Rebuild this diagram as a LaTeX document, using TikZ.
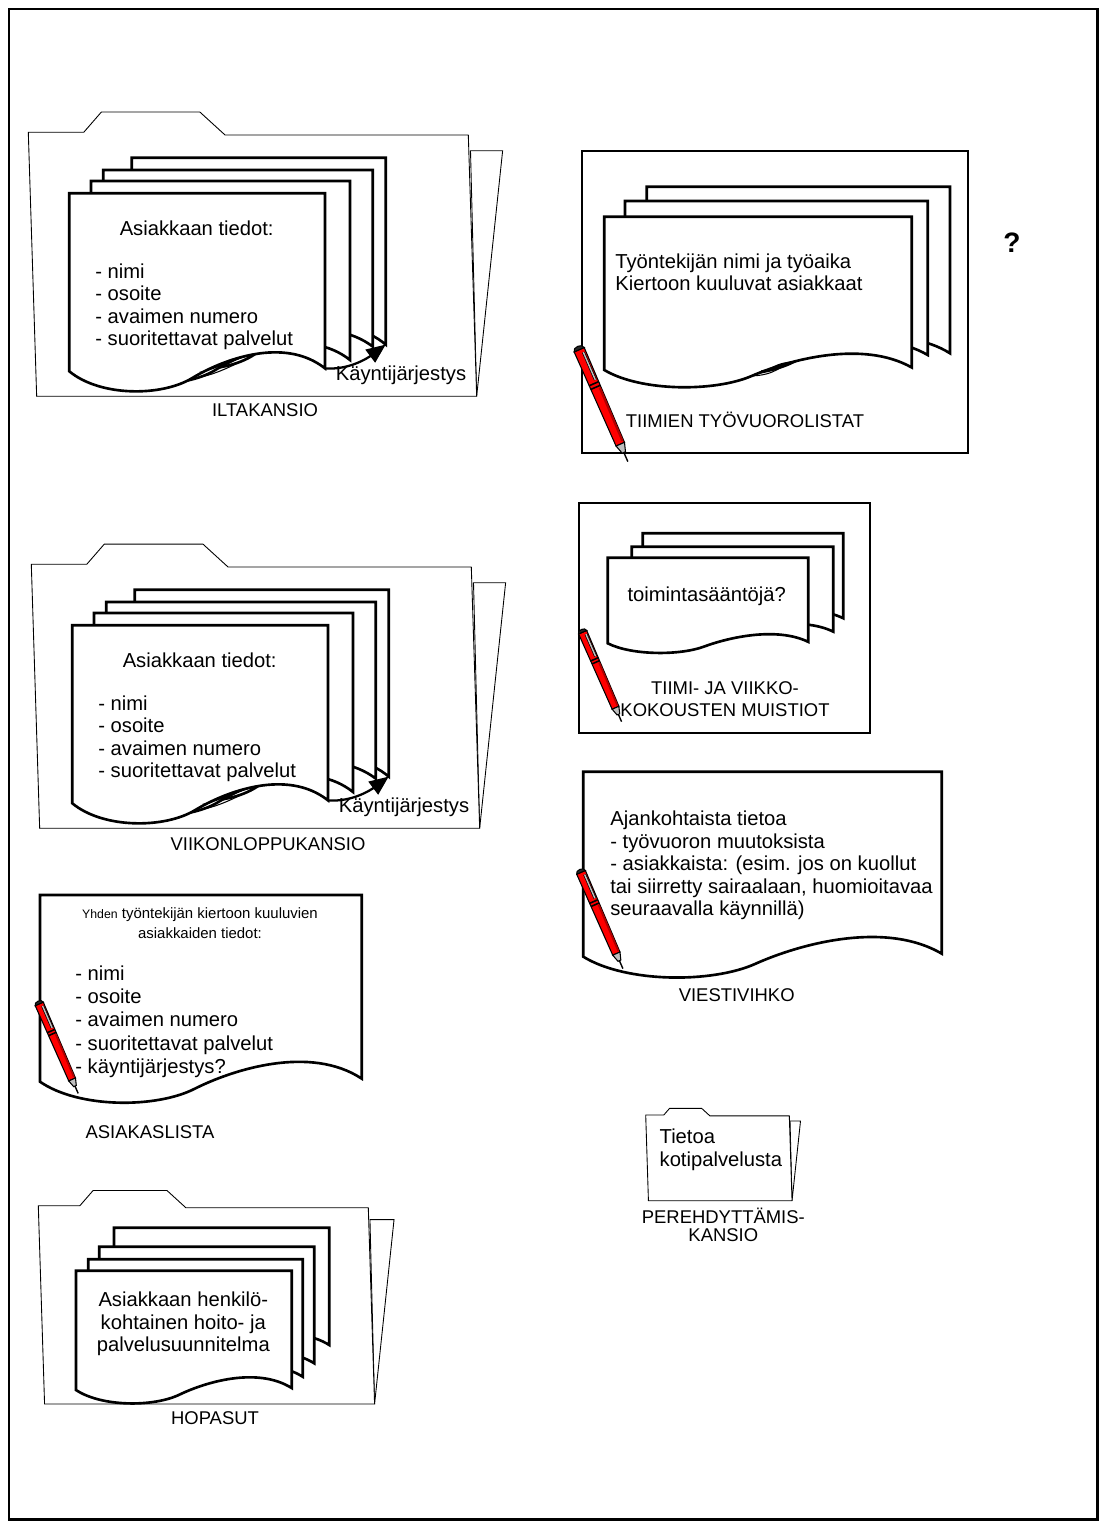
\documentclass[tikz,border=0pt]{standalone}
\usepackage{fontspec}
\setmainfont{Liberation Sans}
\usetikzlibrary{arrows.meta}

\begin{document}
\begin{tikzpicture}[
    x=0.02cm, y=-0.02cm,
    sheetline/.style = {draw, fill=white, line width=1.5pt},
    folderline/.style = {draw, fill=white, line width=0.5pt},
    boxline/.style = {draw, line width=1.3pt},
    curlline/.style = {draw, line width=0.6pt},
    body/.style = {
        inner sep=0pt,
        align=left,
        font=\fontsize{11.5}{12.8}\selectfont
    },
    caption/.style = {
        inner sep=0pt,
        align=center,
        font=\fontsize{10.5}{12.3}\selectfont
    },
    order/.style = {-{Triangle[length=11pt, width=9pt]}, line width=1.3pt},
    % paper sheet with a wavy lower edge, #1 = width, #2 = height
    pics/sheet/.style 2 args = {code={
        \pgfmathsetmacro\wv{0.11*#2}
        \filldraw[sheetline]
            (0,0) -- (#1,0) -- ({#1},{#2-0.15*\wv})
            .. controls ({0.84*#1},{#2-1.8*\wv}) and ({0.6*#1},{#2-0.6*\wv}) .. ({0.48*#1},{#2+0.35*\wv})
            .. controls ({0.36*#1},{#2+1.3*\wv}) and ({0.12*#1},{#2+1.3*\wv}) .. (0,#2) -- cycle;
        \coordinate (-br) at ({#1},{#2-0.15*\wv});
    }},
    % small curl on the lower edge of a sheet
    pics/curl/.style n args = {3}{code={
        \pgfmathsetmacro\wv{0.11*#2}
        \draw[curlline] ({0.48*#1},{#2+0.35*\wv})
            .. controls ({0.56*#1},{#2+0.3*\wv}) and ({(#3-0.05)*#1},{#2-(#3-0.48)*2*\wv})
            .. ({#3*#1},{#2-(#3-0.48)*3.6*\wv});
        \draw[curlline] ({0.51*#1},{#2+0.05*\wv})
            .. controls ({0.56*#1},{#2-0.05*\wv}) and ({(#3-0.08)*#1},{#2-(#3-0.48)*2.6*\wv})
            .. ({#3*#1},{#2-(#3-0.48)*3.6*\wv});
    }},
    % folder with a tab and a back flap, #1 = width, #2 = height
    pics/folder/.style 2 args = {code={
        \pgfmathsetmacro\tabh{0.046*#1}
        \pgfmathsetmacro\sl{0.019*#1}
        \filldraw[folderline] ({1.005*#1},{0.042*#1}) -- ({1.078*#1},{0.042*#1}) -- ({#1+\sl},#2) -- cycle;
        \filldraw[folderline] (0,0) -- ({0.126*#1},0) -- ({0.166*#1},{-\tabh})
            -- ({0.39*#1},{-\tabh}) -- ({0.447*#1},{0.006*#1}) -- (#1,{0.006*#1})
            -- ({#1+\sl},#2) -- (\sl,#2) -- cycle;
    }},
    % red pen, drawn pointing down
    pics/pen/.style = {code={
        \filldraw[fill=red, draw=black, line width=0.6pt] (-5.5,3) -- (5.5,3) -- (4.6,106) -- (-4.6,106) -- cycle;
        \fill[red!70!black] (2.6,46) -- (4.9,46) -- (4.4,104) -- (2.2,104) -- cycle;
        \filldraw[fill=black!85, draw=black, line width=0.6pt] (-5.5,3) .. controls (-5.5,-2) and (5.5,-2) .. (5.5,3) -- cycle;
        \draw[line width=1.6pt] (2.8,7) -- (2.8,37);
        \draw[line width=0.8pt, gray!50] (2.8,7) -- (2.8,37);
        \draw[line width=0.9pt] (-5.4,40) -- (5.4,40);
        \draw[line width=0.9pt] (-5.3,44) -- (5.3,44);
        \filldraw[fill=gray!50, draw=black, line width=0.6pt] (-4.6,106) -- (4.6,106) -- (1.8,115) -- (-1.8,115) -- cycle;
        \draw[line width=0.8pt] (0,115) -- (0,125);
    }}
]

\useasboundingbox (0,0) rectangle (1106,1528);

%% ── Kehys ──────────────────────────────────────────────────────────────────

\draw[line width=1.7pt] (9,9) rectangle (1097,1519);

%% ── Iltakansio ─────────────────────────────────────────────────────────────

\pic at (28.3,132.3) {folder={440}{264}};
\pic (ilta4) at (131.7,157.7) {sheet={254}{190}};
\pic (ilta3) at (103.3,170) {sheet={269.4}{179.5}};
\pic (ilta2) at (91,181) {sheet={259}{182}};
\pic (ilta1) at (69.3,193.3) {sheet={255.7}{178}};
\pic at (69.3,193.3) {curl={255.7}{178}{0.72}};

\node[body, align=center] (ilta-head) at (196.7,228.3) {Asiakkaan tiedot:};
\node[body, anchor=west] (ilta-list) at (95,306.7)
    {- nimi\\- osoite\\- avaimen numero\\- suoritettavat palvelut};
\draw[order] (ilta1-br) .. controls +(25,2) and +(-16,12) .. (ilta4-br);
\node[body] (ilta-order) at (401,375) {Käyntijärjestys};
\node[caption] (ilta-label) at (265,410) {ILTAKANSIO};

%% ── Viikonloppukansio ──────────────────────────────────────────────────────

\begin{scope}[shift={(3,432)}]
    \pic at (28.3,132.3) {folder={440}{264}};
    \pic (viikon4) at (131.7,157.7) {sheet={254}{190}};
    \pic (viikon3) at (103.3,170) {sheet={269.4}{179.5}};
    \pic (viikon2) at (91,181) {sheet={259}{182}};
    \pic (viikon1) at (69.3,193.3) {sheet={255.7}{178}};
    \pic at (69.3,193.3) {curl={255.7}{178}{0.72}};

    \node[body, align=center] (viikon-head) at (196.7,228.3) {Asiakkaan tiedot:};
    \node[body, anchor=west] (viikon-list) at (95,306.7)
        {- nimi\\- osoite\\- avaimen numero\\- suoritettavat palvelut};
    \draw[order] (viikon1-br) .. controls +(25,2) and +(-16,12) .. (viikon4-br);
    \node[body] (viikon-order) at (401,375) {Käyntijärjestys};
    \node[caption] (viikon-label) at (265,412) {VIIKONLOPPUKANSIO};
\end{scope}

%% ── Asiakaslista ───────────────────────────────────────────────────────────

\pic (lista) at (40,895) {sheet={321.7}{186.7}};
\node[inner sep=0pt, align=center, font=\fontsize{8.5}{11.3}\selectfont] (lista-head) at (200,923.3)
    {{\fontsize{7}{11.3}\selectfont Yhden} työntekijän kiertoon kuuluvien\\asiakkaiden tiedot:};
\node[body, anchor=west, font=\fontsize{11.5}{13.2}\selectfont] (lista-items) at (75,1021.7)
    {- nimi\\- osoite\\- avaimen numero\\- suoritettavat palvelut\\- käyntijärjestys?};
\node[caption] (lista-label) at (150,1131.7) {ASIAKASLISTA};
\pic[rotate=23.5, scale=0.8] at (38.3,1001.7) {pen};

%% ── Hopasut ────────────────────────────────────────────────────────────────

\pic at (38.3,1205.7) {folder={330}{198.3}};
\pic (hop4) at (114,1227.7) {sheet={215.3}{119.3}};
\pic (hop3) at (99.3,1246.7) {sheet={215}{118.6}};
\pic (hop2) at (88.3,1259.3) {sheet={214.4}{119.4}};
\pic (hop1) at (76,1270.7) {sheet={215.7}{119.3}};
\node[body, align=center] (hop-text) at (183.3,1324)
    {Asiakkaan henkilö-\\kohtainen hoito- ja\\palvelusuunnitelma};
\node[caption] (hop-label) at (215,1418.3) {HOPASUT};

%% ── Tiimien työvuorolistat ─────────────────────────────────────────────────

\draw[boxline] (581.7,151) rectangle (968.3,453.3);
\pic (tyo3) at (646.7,186.7) {sheet={303.3}{169.4}};
\pic (tyo2) at (625,201) {sheet={302.7}{156.6}};
\pic (tyo1) at (604.3,216.7) {sheet={307.4}{153.3}};
\pic at (604.3,216.7) {curl={307.4}{153.3}{0.62}};
\node[body, anchor=west] (tyo-text) at (615,272.3)
    {Työntekijän nimi ja työaika\\Kiertoon kuuluvat asiakkaat};
\node[caption] (tyo-label) at (745,420) {TIIMIEN TYÖVUOROLISTAT};
\pic[rotate=23.5] at (578,347) {pen};

\node[font=\fontsize{16}{16}\selectfont\bfseries, inner sep=0pt] (query) at (1012,243) {?};

%% ── Kokousten muistiot ─────────────────────────────────────────────────────

\draw[boxline] (579.3,503.3) rectangle (870,733.3);
\pic (muist3) at (642.7,533.3) {sheet={200.6}{86.4}};
\pic (muist2) at (631.7,546.7) {sheet={201.6}{86.4}};
\pic (muist1) at (607.7,557.7) {sheet={200.6}{85.6}};
\node[body, align=center] (muist-text) at (706.7,596.7) {toimintasääntöjä?};
\node[caption] (muist-label) at (725,699.2) {TIIMI- JA VIIKKO-\\KOKOUSTEN MUISTIOT};
\pic[rotate=23.5, scale=0.8] at (581.7,630) {pen};

%% ── Viestivihko ────────────────────────────────────────────────────────────

\pic (viesti) at (583.3,771.7) {sheet={358.4}{185}};
\node[body, anchor=west] (viesti-text) at (610,865.3)
    {Ajankohtaista tietoa\\- työvuoron muutoksista\\- asiakkaista: (esim. jos on kuollut\\tai siirretty sairaalaan, huomioitavaa\\seuraavalla käynnillä)};
\node[caption] (viesti-label) at (736.7,995) {VIESTIVIHKO};
\pic[rotate=23.5, scale=0.86] at (580,870) {pen};

%% ── Perehdyttämiskansio ────────────────────────────────────────────────────

\pic at (645.7,1115) {folder={143.6}{85.7}};
\node[body, anchor=west] (pere-text) at (659.3,1149.7) {Tietoa\\kotipalvelusta};
\node[caption, font=\fontsize{10.5}{10.5}\selectfont] (pere-label) at (723.3,1225)
    {PEREHDYTTÄMIS-\\KANSIO};

\end{tikzpicture}
\end{document}
